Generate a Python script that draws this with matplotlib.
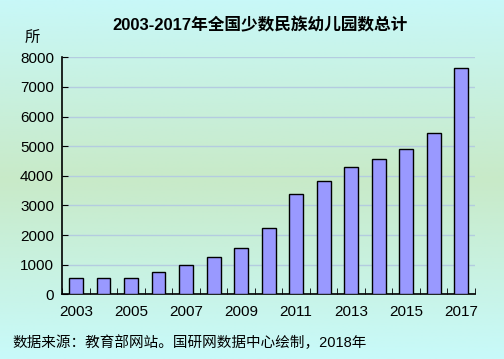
import numpy as np
import matplotlib.pyplot as plt
from matplotlib.colors import LinearSegmentedColormap

plt.rcParams['font.family'] = ['Liberation Sans', 'Noto Sans CJK SC', 'DejaVu Sans']

# data
years = [str(y) for y in range(2003, 2018)]
counts = [540, 560, 565, 765, 1000, 1270, 1575, 2250, 3400, 3840, 4310, 4580, 4920, 5460, 7645]

W, H = 504, 359
fig = plt.figure(figsize=(W / 100, H / 100), dpi=100)

# gradient background (cyan - green - cyan)
bg = fig.add_axes([0, 0, 1, 1], zorder=-10)
cmap = LinearSegmentedColormap.from_list(
    'bg', [(0.0, '#c8f8f8'), (0.5, '#c8eac8'), (1.0, '#c8fafa')])
grad = np.linspace(0, 1, 256).reshape(-1, 1)
bg.imshow(grad, aspect='auto', cmap=cmap, extent=[0, 1, 0, 1])
bg.axis('off')

ax = fig.add_axes([62.3 / W, 1 - 294.3 / H, (475 - 62.3) / W, (294.3 - 57.3) / H])
ax.patch.set_alpha(0)
x = np.arange(len(years))
ax.bar(x, counts, width=0.5, color='#9999ff', edgecolor='black', linewidth=1, zorder=3)

ax.set_xlim(-0.5, len(years) - 0.5)
ax.set_ylim(0, 8000)
ax.set_yticks(range(0, 8001, 1000))
ax.grid(axis='y', color='#b4cce0', linewidth=1, zorder=0)
ax.tick_params(axis='y', direction='in', length=4, labelsize=11, pad=6)

ax.set_xticks(x[::2])
ax.set_xticklabels(years[::2])
ax.tick_params(axis='x', length=0, labelsize=11, pad=8)
ax.set_xticks(np.arange(-0.5, len(years), 1), minor=True)
ax.tick_params(axis='x', which='minor', direction='in', length=4)

for s in ['top', 'right']:
    ax.spines[s].set_visible(False)
for s in ['left', 'bottom']:
    ax.spines[s].set_linewidth(1.2)

fig.text(260 / W, 1 - 25 / H, '2003-2017年全国少数民族幼儿园数总计',
         ha='center', va='center', fontsize=12, fontweight='bold')
fig.text(32 / W, 1 - 38 / H, '所', ha='center', va='center', fontsize=11)
fig.text(12 / W, 1 - 343 / H, '数据来源：教育部网站。国研网数据中心绘制，2018年',
         ha='left', va='center', fontsize=10.5)

fig.savefig('out.png', dpi=100)
